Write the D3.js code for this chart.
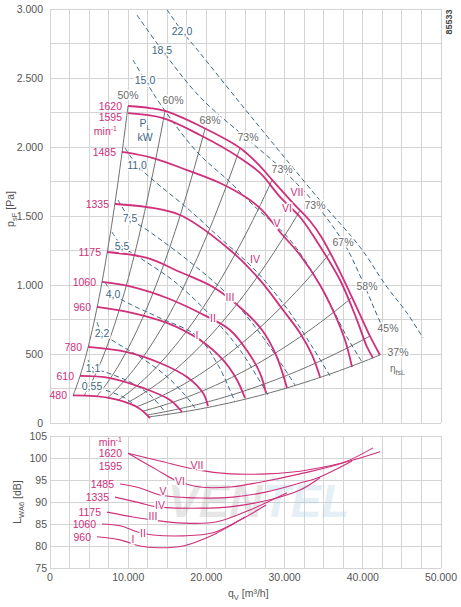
<!DOCTYPE html>
<html lang="de">
<head>
<meta charset="UTF-8">
<title>Kennlinie 85533</title>
<script src="https://d3js.org/d3.v7.min.js"></script>
<style>
body {margin: 0; background: #fff;}
svg text {font-family: "Liberation Sans", Arial, sans-serif;}
.grid line {stroke: #d4d4d4; stroke-width: 1; shape-rendering: crispEdges;}
.tick {font-size: 10.5px; fill: #555;}
</style>
</head>
<body>
<svg id="chart" width="461" height="607"></svg>
<script>
// ---- data (q in m3/h, p in Pa, L in dB) ----
const speeds = ["1620", "1595", "1485", "1335", "1175", "1060", "960", "780", "610", "480"];
const speedQ = [
  [9975,12788,14706,19182,24297,26855,28517,31075,33249,34783,37085,39259,40922,42200],
  [9975,14450,19182,23914,26855,29412,31970,34016,37085,39259,40538,41305],
  [9207,13172,17520,21740,25192,27111,29412,31970,34528,36446,37725,38620],
  [8312,12404,16624,23018,26855,29796,31970,33505,34528],
  [7289,12404,16624,20844,24681,27111,28901,30308],
  [6650,10614,14962,19182,23018,25320,26855,27622],
  [6010,10614,14962,19182,22123,23914,24937],
  [4859,9847,14067,17520,19566,20205],
  [3836,7673,11893,15346,16880],
  [2941,7673,11126,12788]
];
const speedP = [
  [2297,2282,2261,2152,1993,1862,1754,1594,1464,1341,1094,833,630,493],
  [2246,2210,2087,1935,1812,1638,1493,1326,1036,746,551,471],
  [1964,1920,1833,1739,1630,1543,1384,1217,1000,783,601,406],
  [1587,1565,1507,1254,1036,819,652,493,333],
  [1239,1196,1094,985,819,674,493,254],
  [1022,985,906,797,674,514,362,217],
  [841,797,725,601,457,312,181],
  [551,514,435,333,217,123],
  [341,326,254,167,80],
  [200,181,116,36]
];

// efficiency lines (system parabolas), given by where they meet the 1620 curve
const effLabels = ["50%", "60%", "68%", "73%", "73%", "73%", "67%", "58%", "45%", "37%"];
const effTopQ = [9975, 14706, 19821, 24297, 28400, 31970, 35806, 38620, 40922, 42200];

// shaft power lines, second point = label position
const powerLabels = ["22,0", "18,5", "15,0", "11,0", "7,5", "5,5", "4,0", "2,2", "1,1", "0,55"];
const powerQ = [
  [14962,16880,19182,24297,29412,34911,39643,43095,45653,47699],
  [11126,14322,19182,24937,29796,34272,37725,39899,41433,42712],
  [10614,12149,14450,18798,23018,25959,30691,34528,37980,39899],
  [9591,11126,13172,17520,21740,26215,30435,33632,35806],
  [8696,10230,12788,17903,23018,27494,31331],
  [7929,9207,11509,15985,20844,24297,27878],
  [7033,8056,10230,14067,18798,21484,23658],
  [6010,6650,8312,11509,14706,17263,18543],
  [4859,5499,7033,10230,12788,14706],
  [4476,5371,7033,9591,11509]
];
const powerP = [
  [2995,2840,2681,2319,1964,1587,1275,985,797,616],
  [2956,2703,2362,2072,1833,1565,1290,1036,833,667],
  [2630,2485,2283,1964,1746,1580,1326,1000,623,442],
  [1993,1869,1761,1558,1341,1109,819,543,341],
  [1616,1485,1384,1167,913,601,275],
  [1384,1283,1196,1022,761,529,203],
  [1022,935,862,761,630,420,152],
  [732,652,587,478,348,203,109],
  [457,399,370,297,203,80],
  [312,268,239,181,94]
];

const romans = ["VII", "VI", "V", "IV", "III", "II", "I"];
const romanQ = [31586, 30308, 29029, 26215, 23018, 20844, 18798];
const romanP = [1674, 1558, 1449, 1188, 913, 761, 638];

// sound power level curves
const noiseQ = [
  [9975,14067,18798,23018,27750,31970,37469,42200],
  [9975,11509,13683,15985,19182,23018,26855,31970,37469,41305],
  [8952,11509,14067,19182,23402,27750,31970,34528,38620],
  [8312,11509,13683,19182,23018,28133,31970,34528],
  [7289,10614,13172,17008,21356,25576,30308],
  [6650,8952,11509,13172,17008,20844,24297,27622],
  [6010,8952,11509,13683,17008,20844,23018,24937]
];
const noiseL = [
  [101.1,99.3,97.3,96.4,96.4,97.0,98.9,101.4],
  [101.1,99.5,97.3,95.0,93.4,93.4,94.5,96.4,98.9,102.3],
  [94.1,93.2,91.6,90.9,91.1,92.3,94.3,95.7,99.3],
  [91.1,89.8,88.9,88.6,88.9,90.5,92.7,95.5],
  [87.7,86.6,85.9,85.2,85.5,88.2,92.1],
  [85.0,84.6,83.0,82.5,82.3,83.0,85.9,89.3],
  [82.1,81.4,80.0,79.6,80.0,82.5,84.6,86.6]
];
const noiseSpeeds = ["1620", "1595", "1485", "1335", "1175", "1060", "960"];
const noiseRomanQ = [18798, 16624, 14450, 14067, 13172, 11893, 10614];
const noiseRomanL = [98.4, 94.8, 92.5, 89.3, 86.8, 83.0, 81.6];

const pTicks = [0, 500, 1000, 1500, 2000, 2500, 3000];
const lTicks = [75, 80, 85, 90, 95, 100, 105];
const qTicks = [0, 10000, 20000, 30000, 40000, 50000];

// ---- drawing ----
const magenta = "#cf2f7b", blue = "#3d6784", greyLine = "#707070";
const de = d3.formatLocale({decimal: ",", thousands: ".", grouping: [3], currency: ["", ""]});
const fmt = de.format(",d");

const svg = d3.select("#chart");
const x = d3.scaleLinear().domain([0, 50000]).range([50, 441]);
const yP = d3.scaleLinear().domain([0, 3000]).range([423, 9]);
const yL = d3.scaleLinear().domain([75, 105]).range([568, 436]);

// grids
function grid(yScale, yVals) {
  const g = svg.append("g").attr("class", "grid");
  g.selectAll(".v").data(d3.range(0, 50001, 2500)).join("line")
    .attr("x1", d => x(d)).attr("x2", d => x(d))
    .attr("y1", yScale.range()[1]).attr("y2", yScale.range()[0]);
  g.selectAll(".h").data(yVals).join("line")
    .attr("x1", x(0)).attr("x2", x(50000))
    .attr("y1", d => yScale(d)).attr("y2", d => yScale(d));
}
grid(yP, d3.range(0, 3001, 250));
grid(yL, d3.range(75, 106, 5));

// tick labels
svg.append("g").selectAll("text").data(pTicks).join("text").attr("class", "tick")
  .attr("x", 43).attr("y", d => yP(d) + 4).attr("text-anchor", "end").text(d => fmt(d));
svg.append("g").selectAll("text").data(lTicks).join("text").attr("class", "tick")
  .attr("x", 47).attr("y", d => yL(d) + 4).attr("text-anchor", "end").text(d => d);
svg.append("g").selectAll("text").data(qTicks).join("text").attr("class", "tick")
  .attr("x", d => x(d)).attr("y", 581).attr("text-anchor", "middle").text(d => fmt(d));

// axis titles
const t1 = svg.append("text").attr("transform", "translate(14,209) rotate(-90)")
  .attr("text-anchor", "middle").attr("font-size", 10.5).attr("fill", "#555");
t1.append("tspan").text("p");
t1.append("tspan").attr("font-size", 7.5).attr("dy", 3).text("sF");
t1.append("tspan").attr("dy", -3).text(" [Pa]");
const t2 = svg.append("text").attr("transform", "translate(21,502) rotate(-90)")
  .attr("text-anchor", "middle").attr("font-size", 10.5).attr("fill", "#555");
t2.append("tspan").text("L");
t2.append("tspan").attr("font-size", 7.5).attr("dy", 3).text("WA6");
t2.append("tspan").attr("dy", -3).text(" [dB]");
const t3 = svg.append("text").attr("x", 228).attr("y", 597).attr("font-size", 10.5).attr("fill", "#555");
t3.append("tspan").text("q");
t3.append("tspan").attr("font-size", 7.5).attr("dy", 3).text("V");
t3.append("tspan").attr("dy", -3).text(" [m³/h]");
svg.append("text").attr("transform", "translate(452,22) rotate(-90)")
  .attr("text-anchor", "middle").attr("font-size", 9).attr("font-weight", "bold")
  .attr("fill", "#444").text("85533");

// watermark
const wm = svg.append("text").attr("x", 168).attr("y", 517).attr("font-size", 46)
  .attr("font-weight", "bold").attr("font-style", "italic").attr("opacity", 0.3);
wm.append("tspan").attr("fill", "#b0b0b0").text("VEN");
wm.append("tspan").attr("fill", "#a9cbe4").text("TEL");

const line = d3.line().x(d => x(d[0])).y(d => yP(d[1])).curve(d3.curveCatmullRom.alpha(0.5));
const lineL = d3.line().x(d => x(d[0])).y(d => yL(d[1])).curve(d3.curveCatmullRom.alpha(0.5));

// pressure on a speed curve at flow q (linear on the read points)
function pOn(i, q) {
  const qs = speedQ[i], ps = speedP[i];
  if (q <= qs[0]) return ps[0];
  for (let j = 1; j < qs.length; j++) {
    if (q <= qs[j]) return ps[j - 1] + (ps[j] - ps[j - 1]) * (q - qs[j - 1]) / (qs[j] - qs[j - 1]);
  }
  return ps[ps.length - 1];
}

// efficiency parabolas between lowest and highest speed curve
const low = speeds.length - 1;
effTopQ.forEach((qt, i) => {
  const k = pOn(0, qt) / (qt * qt);
  let qb = speedQ[low][0];
  for (let q = speedQ[low][0]; q <= speedQ[low][speedQ[low].length - 1]; q += 20) {
    if (k * q * q >= pOn(low, q)) { qb = q; break; }
  }
  const pts = d3.range(0, 41).map(s => { const q = qb + (qt - qb) * s / 40; return [q, k * q * q]; });
  svg.append("path").attr("d", line(pts)).attr("fill", "none")
    .attr("stroke", greyLine).attr("stroke-width", 1);
});

// power lines
powerQ.forEach((qs, i) => {
  svg.append("path").attr("d", line(qs.map((q, j) => [q, powerP[i][j]])))
    .attr("fill", "none").attr("stroke", blue).attr("stroke-width", 1)
    .attr("stroke-dasharray", "5,3");
});

// speed curves
speedQ.forEach((qs, i) => {
  svg.append("path").attr("d", line(qs.map((q, j) => [q, speedP[i][j]])))
    .attr("fill", "none").attr("stroke", magenta).attr("stroke-width", 1.8);
  svg.append("text").attr("x", x(qs[0]) - 6).attr("y", yP(speedP[i][0]) + (i == 1 ? 8 : 4))
    .attr("text-anchor", "end").attr("font-size", 10.5).attr("fill", magenta).text(speeds[i]);
});
const mu = svg.append("text").attr("x", 117).attr("y", 135).attr("text-anchor", "end")
  .attr("font-size", 10.5).attr("fill", magenta);
mu.append("tspan").text("min");
mu.append("tspan").attr("font-size", 7).attr("dy", -4).text("-1");

// labels with white halo
function halo(sel) {
  return sel.attr("stroke", "#fff").attr("stroke-width", 3).attr("paint-order", "stroke");
}
const effDx = [0, 8, 5, 8, 10, 15, 13, 15, 18, 18];
const effDy = [-11, -11, -9, -11, -11, -5, -11, -11, -8, -3];
effTopQ.forEach((qt, i) => {
  halo(svg.append("text")).attr("x", x(qt) + effDx[i]).attr("y", yP(pOn(0, qt)) + effDy[i] + 4)
    .attr("text-anchor", "middle").attr("font-size", 10.5).attr("fill", "#6a6a6a").text(effLabels[i]);
});
const eta = svg.append("text").attr("x", 390).attr("y", 372).attr("font-size", 10).attr("fill", "#6a6a6a");
eta.append("tspan").text("η");
eta.append("tspan").attr("font-size", 7).attr("dy", 3).text("fsL");

powerQ.forEach((qs, i) => {
  halo(svg.append("text")).attr("x", x(qs[1])).attr("y", yP(powerP[i][1]) + 4)
    .attr("text-anchor", "middle").attr("font-size", 10.5).attr("fill", blue).text(powerLabels[i]);
});
const pl = svg.append("text").attr("x", 145).attr("y", 127).attr("text-anchor", "middle")
  .attr("font-size", 10.5).attr("fill", blue);
pl.append("tspan").text("P");
pl.append("tspan").attr("font-size", 7).attr("dy", 3).text("L");
svg.append("text").attr("x", 145).attr("y", 141).attr("text-anchor", "middle")
  .attr("font-size", 10.5).attr("fill", blue).text("kW");

romans.forEach((r, i) => {
  halo(svg.append("text")).attr("x", x(romanQ[i])).attr("y", yP(romanP[i]) + 4)
    .attr("text-anchor", "middle").attr("font-size", 10.5).attr("fill", magenta).text(r);
});

// noise curves
noiseQ.forEach((qs, i) => {
  svg.append("path").attr("d", lineL(qs.map((q, j) => [q, noiseL[i][j]])))
    .attr("fill", "none").attr("stroke", magenta).attr("stroke-width", 1.1);
  svg.append("text").attr("x", x(qs[0]) - 6).attr("y", yL(noiseL[i][0]) + (i == 1 ? 17 : 4))
    .attr("text-anchor", "end").attr("font-size", 10.5).attr("fill", magenta).text(noiseSpeeds[i]);
  halo(svg.append("text")).attr("x", x(noiseRomanQ[i])).attr("y", yL(noiseRomanL[i]) + 4)
    .attr("text-anchor", "middle").attr("font-size", 10.5).attr("fill", magenta).text(romans[i]);
});
const mu2 = svg.append("text").attr("x", 122).attr("y", 446).attr("text-anchor", "end")
  .attr("font-size", 10.5).attr("fill", magenta);
mu2.append("tspan").text("min");
mu2.append("tspan").attr("font-size", 7).attr("dy", -4).text("-1");
</script>
</body>
</html>
